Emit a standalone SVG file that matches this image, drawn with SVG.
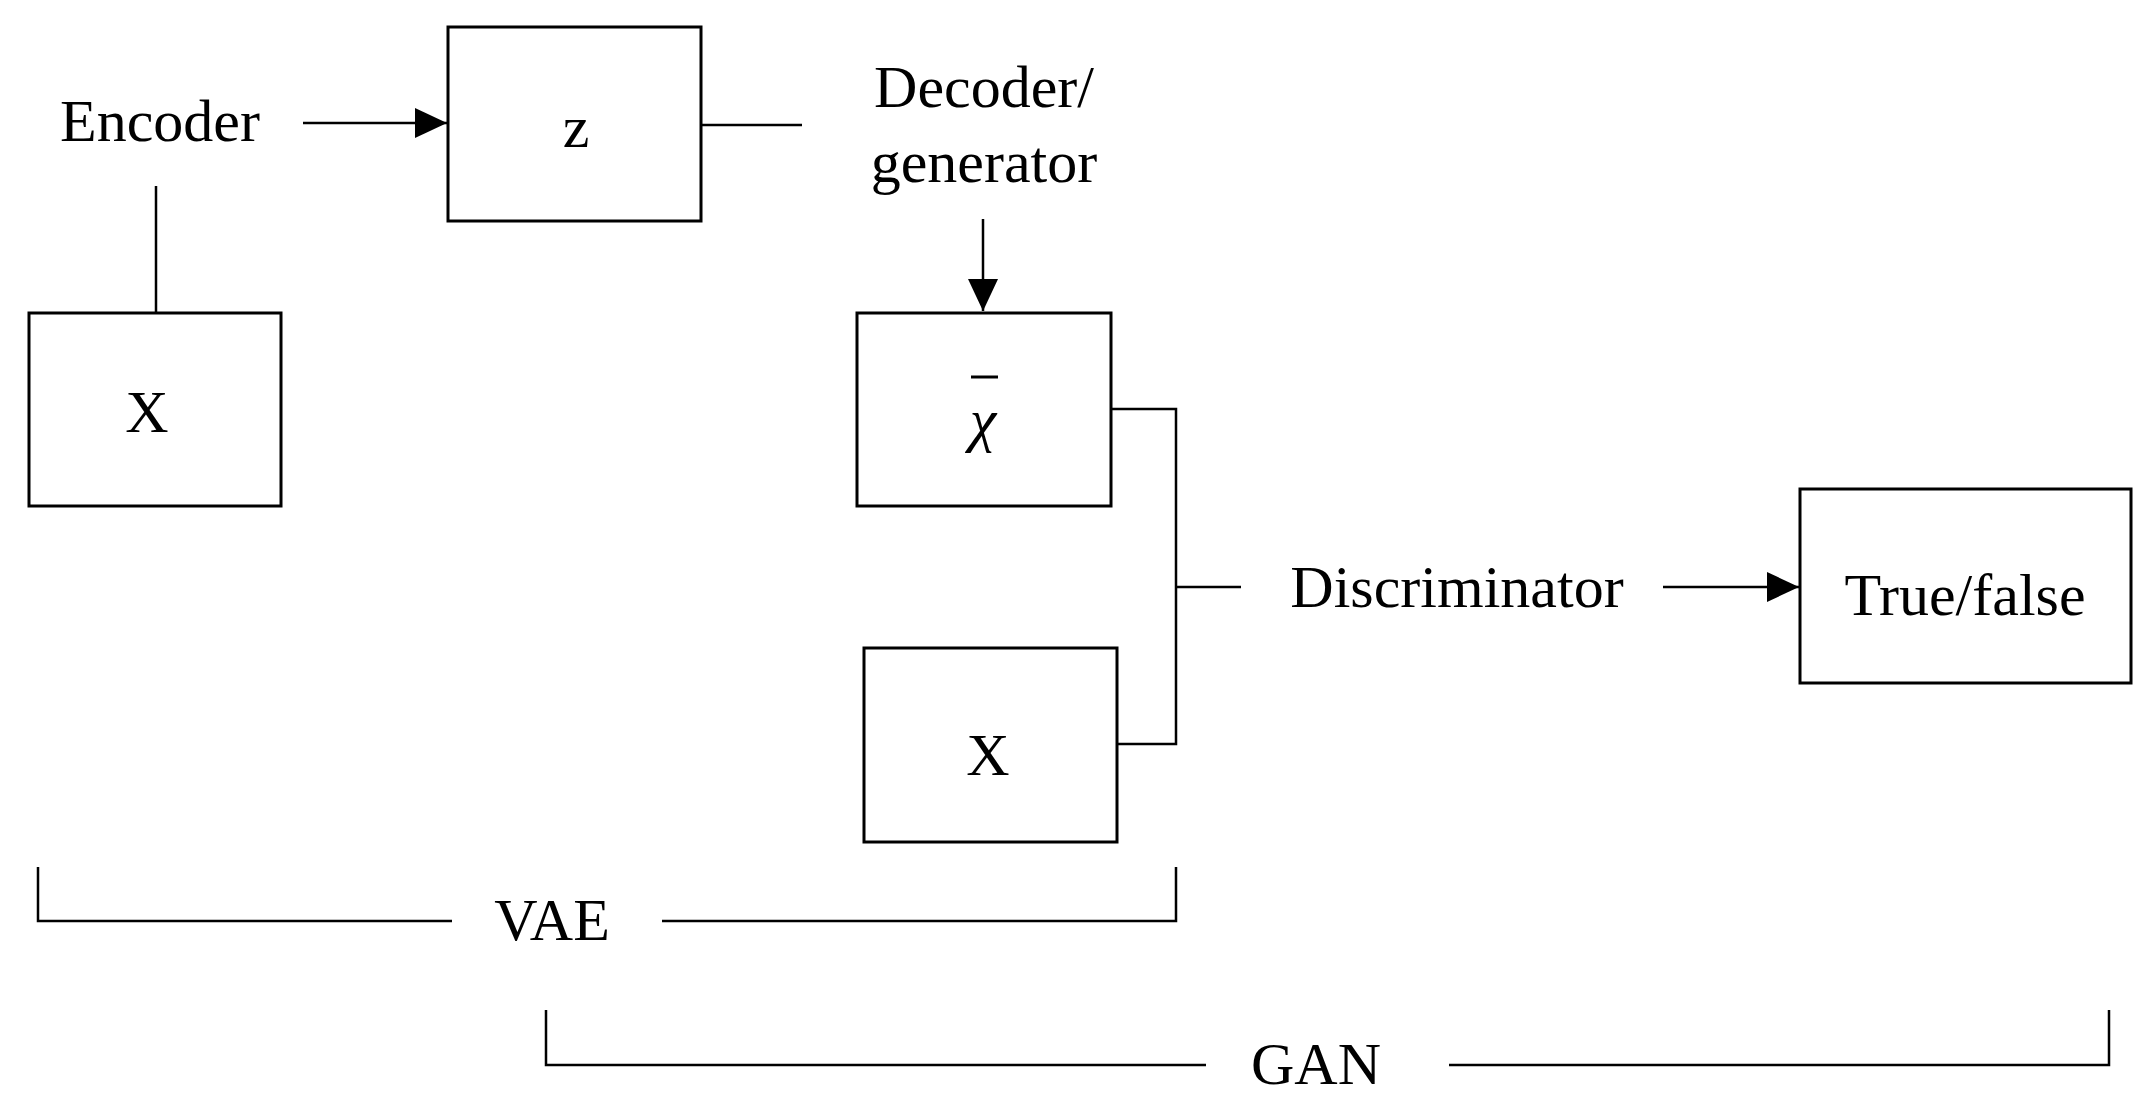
<svg xmlns="http://www.w3.org/2000/svg" width="2150" height="1105" viewBox="0 0 2150 1105">
<style>
.b{fill:#fff;stroke:#000;stroke-width:3}
.l{fill:none;stroke:#000;stroke-width:2.5}
text{font-family:"Liberation Serif","DejaVu Serif",serif;font-size:60px;text-anchor:middle;fill:#000}
</style>
<defs><marker id="a" markerWidth="10" markerHeight="10" refX="9" refY="5" orient="auto" markerUnits="userSpaceOnUse" viewBox="0 0 10 10"><path d="M0,0 L10,5 L0,10z" fill="#000"/></marker>
<marker id="ah" markerWidth="34" markerHeight="30" refX="32" refY="15" orient="auto" markerUnits="userSpaceOnUse"><path d="M0,0 L32,15 L0,30z" fill="#000"/></marker></defs>
<rect width="2150" height="1105" fill="#fff"/>
<g id="connectors">
<line class="l" x1="303" y1="123" x2="447" y2="123" marker-end="url(#ah)"/>
<line class="l" x1="156" y1="186" x2="156" y2="313"/>
<line class="l" x1="701" y1="125" x2="802" y2="125"/>
<line class="l" x1="983" y1="219" x2="983" y2="311" marker-end="url(#ah)"/>
<polyline class="l" points="1111,409 1176,409 1176,744 1117,744"/>
<line class="l" x1="1176" y1="587" x2="1241" y2="587"/>
<line class="l" x1="1663" y1="587" x2="1799" y2="587" marker-end="url(#ah)"/>
<polyline class="l" points="38,867 38,921 452,921"/>
<polyline class="l" points="662,921 1176,921 1176,867"/>
<polyline class="l" points="546,1010 546,1065 1206,1065"/>
<polyline class="l" points="1449,1065 2109,1065 2109,1010"/>
</g>
<g id="encoder"><text x="160" y="141">Encoder</text></g>
<g id="z"><rect class="b" x="448" y="27" width="253" height="194"/><text x="576" y="147">z</text></g>
<g id="decoder"><text x="984" y="107">Decoder/</text><text x="984" y="182">generator</text></g>
<g id="xbar"><rect class="b" x="857" y="313" width="254" height="193"/><line x1="971" y1="377" x2="998" y2="377" stroke="#000" stroke-width="3"/><text x="983" y="440" font-style="italic">χ</text></g>
<g id="x1"><rect class="b" x="29" y="313" width="252" height="193"/><text x="147" y="432">X</text></g>
<g id="x2"><rect class="b" x="864" y="648" width="253" height="194"/><text x="988" y="775">X</text></g>
<g id="discriminator"><text x="1457" y="607">Discriminator</text></g>
<g id="truefalse"><rect class="b" x="1800" y="489" width="331" height="194"/><text x="1965" y="615">True/false</text></g>
<g id="vae"><text x="552" y="940">VAE</text></g>
<g id="gan"><text x="1316" y="1084">GAN</text></g>
</svg>
